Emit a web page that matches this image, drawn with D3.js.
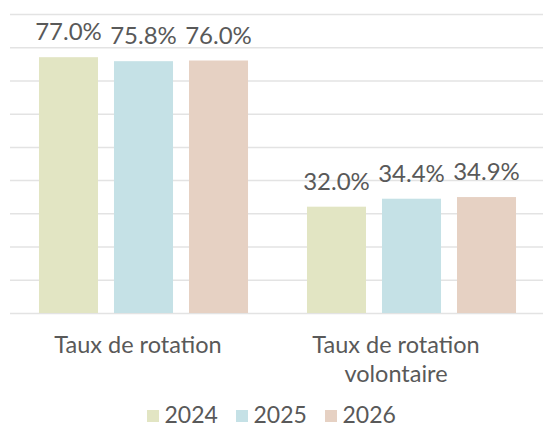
<!DOCTYPE html>
<html>
<head>
<meta charset="utf-8">
<script src="https://d3js.org/d3.v7.min.js"></script>
<style>
  body { margin: 0; background: #fff; }
  text { font-family: Lato, "Open Sans", sans-serif; fill: #595959; }
</style>
</head>
<body>
<div id="chart"></div>
<script>
// data
const categories = [["Taux de rotation"], ["Taux de rotation", "volontaire"]]
const years = ["2024", "2025", "2026"]
const values2024 = [77.0, 32.0]
const values2025 = [75.8, 34.4]
const values2026 = [76.0, 34.9]
const yTicks = [0, 10, 20, 30, 40, 50, 60, 70, 80, 90]
const colors = ["#E2E5C3", "#C5E1E6", "#E6D1C3"]

const width = 543
const height = 423
const margin = {top: 14, right: -3, bottom: 110, left: 10}

const series = [values2024, values2025, values2026]
const rows = categories.map((c, i) => ({
    key: i,
    label: c,
    vals: years.map((y, j) => ({year: y, value: series[j][i]}))
}))

const svg = d3.select("#chart")
    .append("svg")
    .attr("width", width)
    .attr("height", height)

const x0 = d3.scaleBand()
    .domain(rows.map(d => d.key))
    .range([margin.left, width - margin.right])
    .paddingInner(0)
    .paddingOuter(0)

// the category labels sit a bit left of the bar groups
const xLabel = d3.scaleBand()
    .domain(rows.map(d => d.key))
    .range([9, 525])

const x1 = d3.scaleBand()
    .domain(years)
    .range([0, x0.bandwidth()])
    .paddingInner(0.213)
    .paddingOuter(0.393)

const y = d3.scaleLinear()
    .domain([0, 90])
    .range([height - margin.bottom, margin.top])

// gridlines
svg.append("g")
    .attr("transform", `translate(${margin.left},0)`)
    .call(d3.axisLeft(y).tickValues(yTicks).tickSize(-(width - margin.left - margin.right)).tickFormat(""))
    .call(g => g.select(".domain").remove())
    .call(g => g.selectAll("line").attr("stroke", "#e3e3e3").attr("stroke-width", 1.5))

const groups = svg.append("g")
    .selectAll("g")
    .data(rows)
    .enter().append("g")
    .attr("transform", d => `translate(${x0(d.key) - 0.5},0)`)

groups.selectAll("rect")
    .data(d => d.vals)
    .enter().append("rect")
    .attr("x", d => x1(d.year))
    .attr("width", x1.bandwidth())
    .attr("y", d => y(d.value))
    .attr("height", d => y(0) - y(d.value))
    .attr("fill", (d, i) => colors[i])

groups.selectAll("text.val")
    .data(d => d.vals)
    .enter().append("text")
    .attr("class", "val")
    .attr("x", d => x1(d.year) + x1.bandwidth() / 2)
    .attr("y", d => y(d.value) - 17)
    .attr("text-anchor", "middle")
    .style("font-size", "24px")
    .text(d => d.value.toFixed(1) + "%")

// category labels
const xAxis = svg.append("g")
xAxis.selectAll("text")
    .data(rows)
    .enter().append("text")
    .attr("x", d => xLabel(d.key) + xLabel.bandwidth() / 2)
    .attr("y", 353)
    .attr("text-anchor", "middle")
    .style("font-size", "23.5px")
    .each(function (d) {
        d3.select(this).selectAll("tspan")
            .data(d.label)
            .enter().append("tspan")
            .attr("x", xLabel(d.key) + xLabel.bandwidth() / 2)
            .attr("dy", (t, i) => i ? 28.5 : 0)
            .text(t => t)
    })

// legend
const legend = svg.append("g")
    .attr("transform", "translate(147,0)")
const item = legend.selectAll("g")
    .data(years)
    .enter().append("g")
    .attr("transform", (d, i) => `translate(${i * 89},0)`)
item.append("rect")
    .attr("y", 410)
    .attr("width", 12)
    .attr("height", 12)
    .attr("fill", (d, i) => colors[i])
item.append("text")
    .attr("x", 17.5)
    .attr("y", 423)
    .style("font-size", "23px")
    .text(d => d)
</script>
</body>
</html>
